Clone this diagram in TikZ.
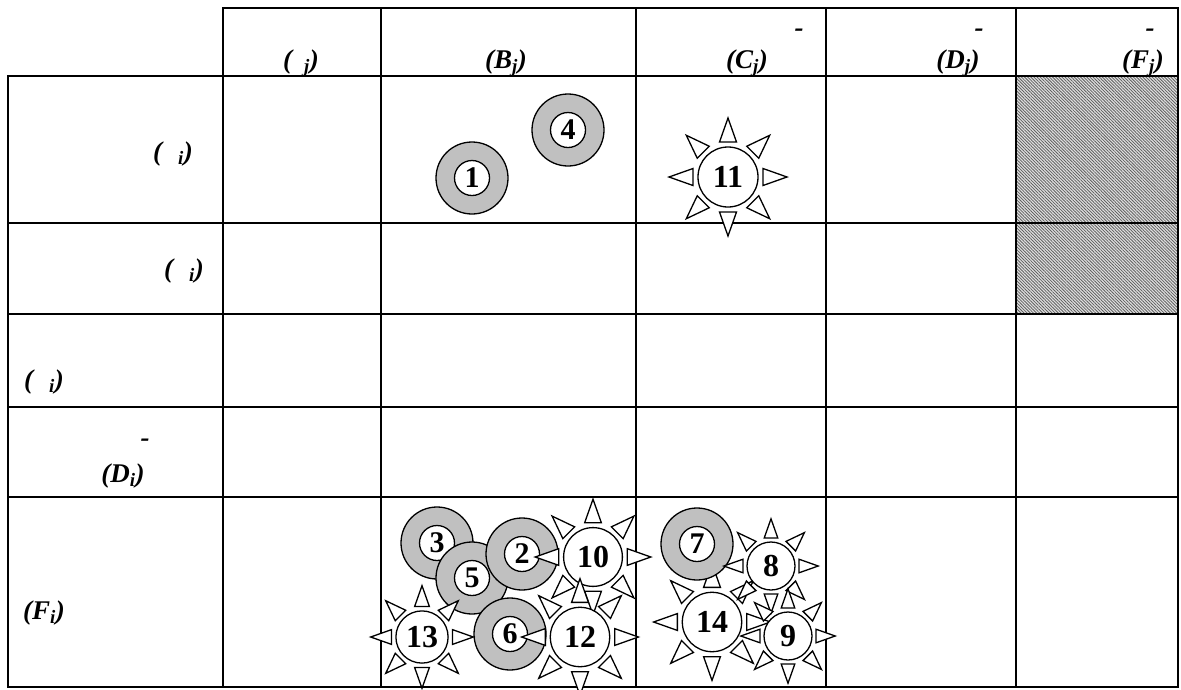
\documentclass[tikz,border=0pt]{standalone}
\usepackage{fontspec}
\setmainfont{Liberation Serif}
\usetikzlibrary{patterns.meta}
\definecolor{ringgray}{RGB}{192,192,192}
\tikzset{
  gridline/.style={line width=2.4pt, line cap=rect},
  lab/.style={font=\fontsize{27}{29}\selectfont\bfseries\itshape, inner sep=0pt, anchor=base},
  ringout/.style={circle, draw, line width=1.3pt, fill=ringgray, minimum size=72pt, inner sep=0pt},
  ringin/.style={circle, draw, line width=1.3pt, fill=white, minimum size=35pt, inner sep=0pt, font=\fontsize{30}{31}\selectfont\bfseries},
  suncore/.style={circle, draw, line width=1.3pt, fill=white, inner sep=0pt, font=\fontsize{32}{33}\selectfont\bfseries},
  ray/.style={draw, line width=1.3pt, fill=white, line join=miter},
  hatch/.style={fill=gray!25, postaction={pattern={Lines[angle=-45,distance=2.2pt,line width=0.8pt]}, pattern color=gray!75!black}},
}
\newcommand{\myring}[4]{%
  \node[ringout] (#1o) at (#2,#3) {};
  \node[ringin] (#1) at (#2,#3) {#4};}
\newcommand{\mysun}[5]{%
  \foreach \a in {0,45,...,315}{%
    \begin{scope}[shift={(#2,#3)}, rotate=\a]
      \path[ray] (35*#4,-8.5*#4) -- (59*#4,0) -- (35*#4,8.5*#4) -- cycle;
    \end{scope}}
  \node[suncore, minimum size=60*#4 pt] (#1) at (#2,#3) {#5};}
\begin{document}
\begin{tikzpicture}[x=1pt,y=-1pt]
\useasboundingbox (0,0) rectangle (1181,689);
% hatched cells
\path[hatch] (1016,76) rectangle (1178,314);
% grid
\draw[gridline] (223,8) -- (1178,8);
\foreach \yy in {76,222.7,314,407,497,687}{\draw[gridline] (8,\yy) -- (1178,\yy);}
\draw[gridline] (8,76) -- (8,687);
\foreach \xx in {223,381,636,826,1016,1178}{\draw[gridline] (\xx,8) -- (\xx,687);}
% header labels
\node[lab] (hA) at (301,68) {(\hspace{0.45em}\textsubscript{j})};
\node[lab] (hB) at (506,68) {(B\textsubscript{j})};
\node[lab] (hCd) at (799,36) {-};
\node[lab] (hC) at (747,68) {(C\textsubscript{j})};
\node[lab] (hDd) at (979,36) {-};
\node[lab] (hD) at (958,68) {(D\textsubscript{j})};
\node[lab] (hFd) at (1150,36) {-};
\node[lab] (hF) at (1143,68) {(F\textsubscript{j})};
% row labels
\node[lab] (r1) at (173,160) {(\hspace{0.6em}\textsubscript{i})};
\node[lab] (r2) at (184,277) {(\hspace{0.6em}\textsubscript{i})};
\node[lab] (r3) at (44,388) {(\hspace{0.6em}\textsubscript{i})};
\node[lab] (r4d) at (145,446) {-};
\node[lab] (r4) at (123,482) {(D\textsubscript{i})};
\node[lab] (r5) at (44,619) {(F\textsubscript{i})};
% row 1
\myring{n1}{472}{178}{1}
\myring{n4}{568}{130}{4}
\mysun{n11}{728}{177}{1}{11}
% bottom row, column B
\myring{n3}{437}{543}{3}
\myring{n5}{472}{578}{5}
\myring{n2}{522}{554}{2}
\myring{n6}{510}{634}{6}
\mysun{n13}{422}{637}{0.87}{13}
\mysun{n10}{593}{557}{0.98}{10}
\mysun{n12}{580}{637}{0.99}{12}
% bottom row, column C
\mysun{n14}{712}{622}{0.99}{14}
\myring{n7}{697}{544}{7}
\mysun{n8}{771}{566}{0.8}{8}
\mysun{n9}{788}{636}{0.8}{9}
\end{tikzpicture}
\end{document}
